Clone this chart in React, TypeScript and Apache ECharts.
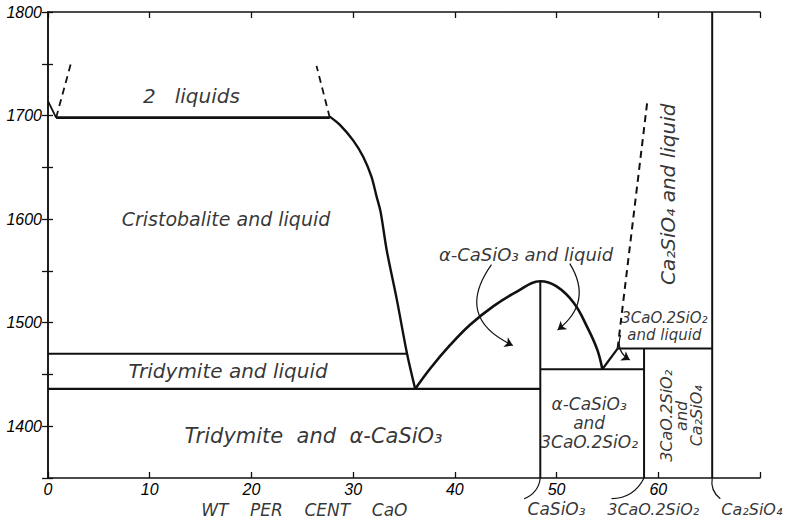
import React, { useEffect, useRef } from "react";
import * as echarts from "echarts";

// ---- data (wt % CaO, temperature °C) ----
const xTicks = [0, 10, 20, 30, 40, 50, 60, 70];
const yLabelTemps = [1400, 1500, 1600, 1700, 1800];

const silicaMelt = [[0, 1714], [0.8, 1698]];
const monotectic = [[0.8, 1698], [27.7, 1698]];
const gapLeft = [[0.8, 1698], [2.3, 1752]];
const gapRight = [[27.7, 1698], [26.4, 1748]];
const cristobaliteLiquidus = [
  [27.7, 1699], [28.7, 1691], [30.0, 1676], [31.0, 1660], [31.8, 1641],
  [32.3, 1622], [32.7, 1607], [33.3, 1570], [34.3, 1522], [35.3, 1470], [36.1, 1436],
];
const tridymiteLine = [[0, 1470], [35.3, 1470]];
const eutecticLine = [[0, 1436], [48.4, 1436]];
const wollastoniteLiquidus = [
  [36.1, 1436], [37.6, 1456], [39.5, 1478], [41.5, 1498], [43.8, 1516], [46.1, 1530],
  [48.4, 1540], [50.0, 1535], [51.7, 1519], [53.0, 1496], [54.0, 1474], [54.5, 1455],
];
const peritecticRise = [[54.5, 1455], [56.0, 1475]];
const line1455 = [[48.4, 1455], [58.6, 1455]];
const line1475 = [[56.0, 1475], [65.3, 1475]];
const c2sLiquidusDashed = [[56.0, 1475], [58.9, 1712]];
const casio3Vertical = [[48.4, 1350], [48.4, 1540]];
const rankiniteVertical = [[58.6, 1350], [58.6, 1475]];
const c2sVertical = [[65.3, 1350], [65.3, 1800]];

// annotation arrows / tags
const arrowLeft = [[43.6, 1556], [45.7, 1478]];
const arrowRight = [[51.3, 1557], [50.1, 1493]];
const arrowSmall = [[56.3, 1488], [57.2, 1464]];
const tagCaSiO3 = [[48.4, 1350], [46.8, 1330]];
const tagRankinite = [[58.6, 1350], [55.4, 1330]];
const tagC2S = [[65.3, 1350], [66.1, 1330]];

// field labels
const fieldLabels = [
  "2   liquids",
  "Cristobalite and liquid",
  "Tridymite and liquid",
  "Tridymite  and  α-CaSiO₃",
  "α-CaSiO₃ and liquid",
  "Ca₂SiO₄ and liquid",
  "3CaO.2SiO₂\nand liquid",
  "α-CaSiO₃\nand\n3CaO.2SiO₂",
  "3CaO.2SiO₂\nand\nCa₂SiO₄",
  "CaSiO₃",
  "3CaO.2SiO₂",
  "Ca₂SiO₄",
  "WT    PER    CENT    CaO",
];
const fieldLabelPos = [
  [14.1, 1719],
  [17.5, 1600],
  [17.7, 1453],
  [26.1, 1391],
  [47.0, 1566],
  [61.0, 1624],
  [60.6, 1496],
  [53.2, 1403],
  [62.3, 1410],
  [50.0, 1320],
  [59.5, 1320],
  [69.2, 1320],
  [25.2, 1319],
];

const INK = "#000";
const TICK_FONT = "Liberation Sans";
const FONT = "DejaVu Sans";

function seg(data: number[][], width: number, dashed = false, smooth: number | boolean = false) {
  return {
    type: "line",
    data,
    showSymbol: false,
    symbol: "none",
    smooth,
    clip: false,
    silent: true,
    lineStyle: { color: "#111", width, type: dashed ? [7, 5] : "solid" },
    z: 3,
  };
}

export default function App() {
  const ref = useRef<HTMLDivElement>(null);
  useEffect(() => {
    if (!ref.current) return;
    const chart = echarts.init(ref.current, undefined, { renderer: "svg" });

    const sizes = [20, 19, 20, 21, 18, 20, 15, 17, 16, 17, 16, 16, 17];
    const labelStyle = (i: number) => {
      const base: any = {
        show: true,
        position: "inside",
        color: INK,
        fontFamily: FONT,
        fontStyle: "italic",
        fontSize: sizes[i],
        align: "center",
        verticalAlign: "middle",
        lineHeight: 18,
        formatter: fieldLabels[i],
      };
      if (i === 5) base.rotate = 90;
      if (i === 6) base.lineHeight = 17;
      if (i === 7) base.lineHeight = 19;
      if (i === 8) { base.rotate = 90; base.lineHeight = 15; }
      if (i >= 9 && i <= 11) base.lineHeight = 16;
      return base;
    };

    const lineItem = (c: number[][], curveness: number) => ({
      coords: c,
      lineStyle: { curveness },
    });

    const axisTick = { inside: true, length: 6, lineStyle: { color: "#111", width: 1.3 } };
    const axisLine = { lineStyle: { color: "#111", width: 1.5 } };

    chart.setOption({
      animation: false,
      backgroundColor: "#fff",
      grid: { left: 48, right: 25, top: 12, bottom: 42, containLabel: false },
      xAxis: [
        {
          type: "value",
          min: xTicks[0],
          max: xTicks[xTicks.length - 1],
          interval: 10,
          position: "bottom",
          axisLine,
          axisTick,
          axisLabel: {
            color: INK,
            fontFamily: TICK_FONT,
            fontStyle: "italic",
            fontSize: 16,
            lineHeight: 16,
            margin: 3,
            formatter: (v: number) => (v === 70 ? "" : String(v)),
          },
          splitLine: { show: false },
        },
        {
          type: "value",
          min: xTicks[0],
          max: xTicks[xTicks.length - 1],
          interval: 10,
          position: "top",
          axisLine,
          axisTick,
          axisLabel: { show: false },
          splitLine: { show: false },
        },
      ],
      yAxis: [
        {
          type: "value",
          min: 1350,
          max: 1800,
          interval: 50,
          position: "left",
          axisLine,
          axisTick: { ...axisTick, length: 5 },
          axisLabel: {
            color: INK,
            fontFamily: TICK_FONT,
            fontStyle: "italic",
            fontSize: 16,
            margin: 6,
            formatter: (v: number) => (yLabelTemps.indexOf(v) >= 0 ? String(v) : ""),
          },
          splitLine: { show: false },
        },
        {
          type: "value",
          min: 1350,
          max: 1800,
          interval: 50,
          position: "right",
          axisLine,
          axisTick,
          axisLabel: { show: false },
          splitLine: { show: false },
        },
      ],
      series: [
        seg(silicaMelt, 1.8),
        seg(monotectic, 2.6),
        seg(gapLeft, 1.8, true),
        seg(gapRight, 1.8, true),
        seg(cristobaliteLiquidus, 2.4, false, 0.3),
        seg(tridymiteLine, 2.2),
        seg(eutecticLine, 2.2),
        seg(wollastoniteLiquidus, 2.6, false, 0.4),
        seg(peritecticRise, 2.2),
        seg(line1455, 2.2),
        seg(line1475, 2.0),
        seg(c2sLiquidusDashed, 2.0, true),
        seg(casio3Vertical, 2.0),
        seg(rankiniteVertical, 2.0),
        seg(c2sVertical, 2.0),
        {
          type: "lines",
          coordinateSystem: "cartesian2d",
          clip: false,
          silent: true,
          symbol: ["none", "arrow"],
          symbolSize: 8,
          lineStyle: { color: "#111", width: 1.2, opacity: 1 },
          data: [
            lineItem(arrowLeft, -0.6),
            lineItem(arrowRight, 0.45),
            lineItem(arrowSmall, -0.4),
          ],
          z: 4,
        },
        {
          type: "lines",
          coordinateSystem: "cartesian2d",
          clip: false,
          silent: true,
          symbol: ["none", "none"],
          lineStyle: { color: "#111", width: 1.2, opacity: 1 },
          data: [
            lineItem(tagCaSiO3, 0.3),
            lineItem(tagRankinite, 0.3),
            lineItem(tagC2S, -0.3),
          ],
          z: 4,
        },
        {
          type: "scatter",
          symbolSize: 0,
          clip: false,
          silent: true,
          data: fieldLabelPos.map((p, i) => ({ value: p, label: labelStyle(i) })),
          z: 5,
        },
      ],
    });
    return () => chart.dispose();
  }, []);
  return <div ref={ref} style={{ width: 785, height: 520, position: "absolute", left: 0, top: 0, background: "#fff" }} />;
}
